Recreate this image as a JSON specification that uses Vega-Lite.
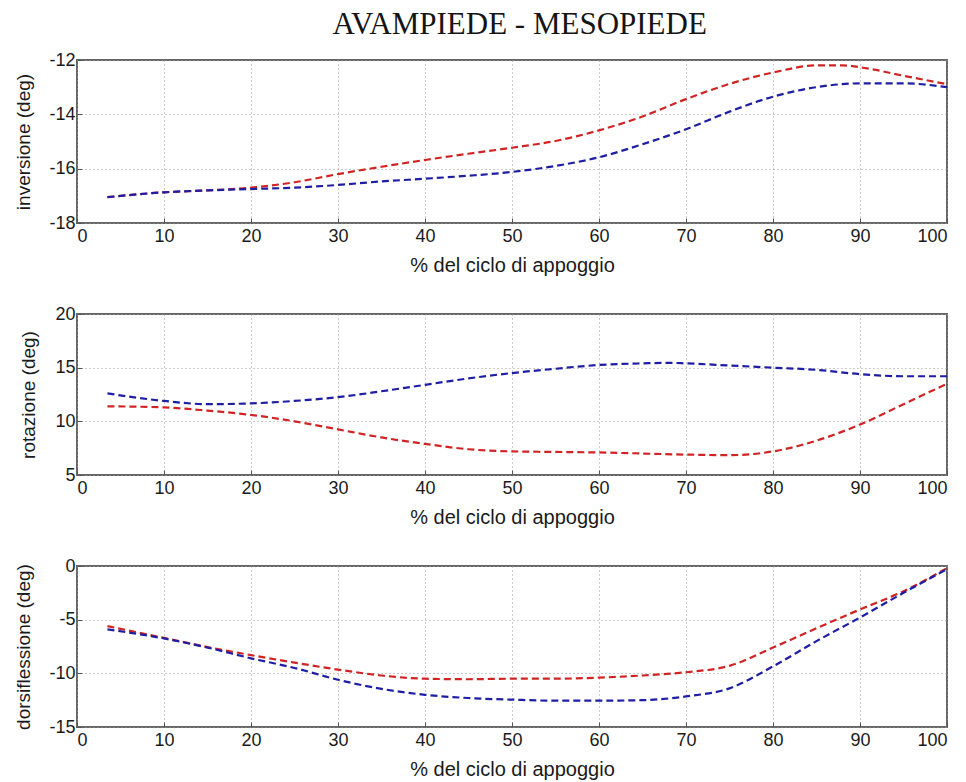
{
  "$schema": "https://vega.github.io/schema/vega-lite/v6.json",
  "background": "white",
  "padding": {"left": 12, "top": 9, "right": 2, "bottom": 2},
  "title": {"text": "AVAMPIEDE - MESOPIEDE", "font": "Liberation Serif", "fontSize": 31, "fontWeight": "normal", "color": "#151515", "anchor": "middle", "offset": 9, "dx": 37},
  "config": {
    "view": {"stroke": "#666", "strokeWidth": 2},
    "axis": {"labelFont": "Liberation Sans", "labelFontSize": 18, "labelColor": "#1a1a1a", "titleFont": "Liberation Sans", "titleFontWeight": "normal", "titleColor": "#1a1a1a", "grid": true, "gridColor": "#999", "gridDash": [1, 3], "gridWidth": 1, "domain": false, "tickColor": "#555", "tickSize": -5, "labelExpr": "'' + datum.value"},
    "axisX": {"labelPadding": 9, "titleFontSize": 20, "titleY": 48, "titleBaseline": "alphabetic"},
    "axisY": {"labelPadding": 7, "titleFontSize": 19, "titleBaseline": "middle"}
  },
  "data": {"values": [
    {"panel": "inv", "series": "red", "x": 3.5, "y": -17.05},
    {"panel": "inv", "series": "red", "x": 10, "y": -16.87},
    {"panel": "inv", "series": "red", "x": 15, "y": -16.8},
    {"panel": "inv", "series": "red", "x": 20, "y": -16.7},
    {"panel": "inv", "series": "red", "x": 25, "y": -16.5},
    {"panel": "inv", "series": "red", "x": 30, "y": -16.2},
    {"panel": "inv", "series": "red", "x": 35, "y": -15.93},
    {"panel": "inv", "series": "red", "x": 40, "y": -15.68},
    {"panel": "inv", "series": "red", "x": 45, "y": -15.45},
    {"panel": "inv", "series": "red", "x": 50, "y": -15.23},
    {"panel": "inv", "series": "red", "x": 55, "y": -14.98},
    {"panel": "inv", "series": "red", "x": 60, "y": -14.59},
    {"panel": "inv", "series": "red", "x": 65, "y": -14.08},
    {"panel": "inv", "series": "red", "x": 70, "y": -13.44},
    {"panel": "inv", "series": "red", "x": 75, "y": -12.88},
    {"panel": "inv", "series": "red", "x": 80, "y": -12.46},
    {"panel": "inv", "series": "red", "x": 85, "y": -12.2},
    {"panel": "inv", "series": "red", "x": 88, "y": -12.2},
    {"panel": "inv", "series": "red", "x": 91, "y": -12.32},
    {"panel": "inv", "series": "red", "x": 95, "y": -12.58},
    {"panel": "inv", "series": "red", "x": 100, "y": -12.89},
    {"panel": "inv", "series": "blue", "x": 3.5, "y": -17.05},
    {"panel": "inv", "series": "blue", "x": 10, "y": -16.87},
    {"panel": "inv", "series": "blue", "x": 15, "y": -16.8},
    {"panel": "inv", "series": "blue", "x": 20, "y": -16.75},
    {"panel": "inv", "series": "blue", "x": 25, "y": -16.7},
    {"panel": "inv", "series": "blue", "x": 30, "y": -16.6},
    {"panel": "inv", "series": "blue", "x": 35, "y": -16.47},
    {"panel": "inv", "series": "blue", "x": 40, "y": -16.37},
    {"panel": "inv", "series": "blue", "x": 45, "y": -16.26},
    {"panel": "inv", "series": "blue", "x": 50, "y": -16.12},
    {"panel": "inv", "series": "blue", "x": 55, "y": -15.9},
    {"panel": "inv", "series": "blue", "x": 60, "y": -15.58},
    {"panel": "inv", "series": "blue", "x": 65, "y": -15.1},
    {"panel": "inv", "series": "blue", "x": 70, "y": -14.55},
    {"panel": "inv", "series": "blue", "x": 75, "y": -13.9},
    {"panel": "inv", "series": "blue", "x": 80, "y": -13.35},
    {"panel": "inv", "series": "blue", "x": 85, "y": -13.0},
    {"panel": "inv", "series": "blue", "x": 90, "y": -12.86},
    {"panel": "inv", "series": "blue", "x": 95, "y": -12.86},
    {"panel": "inv", "series": "blue", "x": 100, "y": -13.0},
    {"panel": "rot", "series": "red", "x": 3.5, "y": 11.4},
    {"panel": "rot", "series": "red", "x": 10, "y": 11.3},
    {"panel": "rot", "series": "red", "x": 15, "y": 11.0},
    {"panel": "rot", "series": "red", "x": 20, "y": 10.6},
    {"panel": "rot", "series": "red", "x": 25, "y": 10.0},
    {"panel": "rot", "series": "red", "x": 30, "y": 9.25},
    {"panel": "rot", "series": "red", "x": 35, "y": 8.5},
    {"panel": "rot", "series": "red", "x": 40, "y": 7.9},
    {"panel": "rot", "series": "red", "x": 45, "y": 7.4},
    {"panel": "rot", "series": "red", "x": 50, "y": 7.2},
    {"panel": "rot", "series": "red", "x": 55, "y": 7.15},
    {"panel": "rot", "series": "red", "x": 60, "y": 7.1},
    {"panel": "rot", "series": "red", "x": 65, "y": 7.0},
    {"panel": "rot", "series": "red", "x": 70, "y": 6.9},
    {"panel": "rot", "series": "red", "x": 75, "y": 6.85},
    {"panel": "rot", "series": "red", "x": 80, "y": 7.2},
    {"panel": "rot", "series": "red", "x": 85, "y": 8.2},
    {"panel": "rot", "series": "red", "x": 90, "y": 9.7},
    {"panel": "rot", "series": "red", "x": 95, "y": 11.6},
    {"panel": "rot", "series": "red", "x": 100, "y": 13.5},
    {"panel": "rot", "series": "blue", "x": 3.5, "y": 12.6},
    {"panel": "rot", "series": "blue", "x": 10, "y": 11.9},
    {"panel": "rot", "series": "blue", "x": 15, "y": 11.6},
    {"panel": "rot", "series": "blue", "x": 20, "y": 11.67},
    {"panel": "rot", "series": "blue", "x": 25, "y": 11.9},
    {"panel": "rot", "series": "blue", "x": 30, "y": 12.25},
    {"panel": "rot", "series": "blue", "x": 35, "y": 12.8},
    {"panel": "rot", "series": "blue", "x": 40, "y": 13.4},
    {"panel": "rot", "series": "blue", "x": 45, "y": 14.0},
    {"panel": "rot", "series": "blue", "x": 50, "y": 14.5},
    {"panel": "rot", "series": "blue", "x": 55, "y": 14.9},
    {"panel": "rot", "series": "blue", "x": 60, "y": 15.25},
    {"panel": "rot", "series": "blue", "x": 65, "y": 15.4},
    {"panel": "rot", "series": "blue", "x": 68, "y": 15.45},
    {"panel": "rot", "series": "blue", "x": 70, "y": 15.4},
    {"panel": "rot", "series": "blue", "x": 75, "y": 15.2},
    {"panel": "rot", "series": "blue", "x": 80, "y": 15.0},
    {"panel": "rot", "series": "blue", "x": 85, "y": 14.8},
    {"panel": "rot", "series": "blue", "x": 90, "y": 14.4},
    {"panel": "rot", "series": "blue", "x": 95, "y": 14.2},
    {"panel": "rot", "series": "blue", "x": 100, "y": 14.2},
    {"panel": "dor", "series": "red", "x": 3.5, "y": -5.6},
    {"panel": "dor", "series": "red", "x": 10, "y": -6.7},
    {"panel": "dor", "series": "red", "x": 15, "y": -7.55},
    {"panel": "dor", "series": "red", "x": 20, "y": -8.3},
    {"panel": "dor", "series": "red", "x": 25, "y": -9.0},
    {"panel": "dor", "series": "red", "x": 30, "y": -9.65},
    {"panel": "dor", "series": "red", "x": 35, "y": -10.2},
    {"panel": "dor", "series": "red", "x": 40, "y": -10.5},
    {"panel": "dor", "series": "red", "x": 45, "y": -10.55},
    {"panel": "dor", "series": "red", "x": 50, "y": -10.5},
    {"panel": "dor", "series": "red", "x": 55, "y": -10.5},
    {"panel": "dor", "series": "red", "x": 60, "y": -10.4},
    {"panel": "dor", "series": "red", "x": 65, "y": -10.2},
    {"panel": "dor", "series": "red", "x": 70, "y": -9.9},
    {"panel": "dor", "series": "red", "x": 75, "y": -9.3},
    {"panel": "dor", "series": "red", "x": 80, "y": -7.6},
    {"panel": "dor", "series": "red", "x": 85, "y": -5.8},
    {"panel": "dor", "series": "red", "x": 90, "y": -4.05},
    {"panel": "dor", "series": "red", "x": 95, "y": -2.35},
    {"panel": "dor", "series": "red", "x": 100, "y": -0.2},
    {"panel": "dor", "series": "blue", "x": 3.5, "y": -5.9},
    {"panel": "dor", "series": "blue", "x": 10, "y": -6.75},
    {"panel": "dor", "series": "blue", "x": 15, "y": -7.6},
    {"panel": "dor", "series": "blue", "x": 20, "y": -8.6},
    {"panel": "dor", "series": "blue", "x": 25, "y": -9.5},
    {"panel": "dor", "series": "blue", "x": 30, "y": -10.6},
    {"panel": "dor", "series": "blue", "x": 35, "y": -11.45},
    {"panel": "dor", "series": "blue", "x": 40, "y": -12.0},
    {"panel": "dor", "series": "blue", "x": 45, "y": -12.3},
    {"panel": "dor", "series": "blue", "x": 50, "y": -12.45},
    {"panel": "dor", "series": "blue", "x": 55, "y": -12.55},
    {"panel": "dor", "series": "blue", "x": 60, "y": -12.55},
    {"panel": "dor", "series": "blue", "x": 65, "y": -12.5},
    {"panel": "dor", "series": "blue", "x": 70, "y": -12.15},
    {"panel": "dor", "series": "blue", "x": 75, "y": -11.4},
    {"panel": "dor", "series": "blue", "x": 80, "y": -9.35},
    {"panel": "dor", "series": "blue", "x": 85, "y": -7.0},
    {"panel": "dor", "series": "blue", "x": 90, "y": -4.8},
    {"panel": "dor", "series": "blue", "x": 95, "y": -2.5},
    {"panel": "dor", "series": "blue", "x": 100, "y": -0.3}
  ]},
  "bounds": "flush",
  "spacing": 91,
  "vconcat": [
    {
      "width": 870, "height": 163,
      "transform": [{"filter": "datum.panel === 'inv'"}],
      "mark": {"type": "line", "strokeDash": [7, 4], "strokeWidth": 2.2, "interpolate": "monotone"},
      "encoding": {
        "x": {"field": "x", "type": "quantitative", "scale": {"domain": [0, 100], "nice": false}, "axis": {"title": "% del ciclo di appoggio", "values": [0,10,20,30,40,50,60,70,80,90,100]}},
        "y": {"field": "y", "type": "quantitative", "scale": {"domain": [-18, -12], "nice": false}, "axis": {"title": "inversione (deg)", "values": [-18,-16,-14,-12], "titleX": -54}},
        "color": {"field": "series", "type": "nominal", "scale": {"domain": ["red", "blue"], "range": ["#d02424", "#1e1ea4"]}, "legend": null}
      }
    },
    {
      "width": 870, "height": 161,
      "transform": [{"filter": "datum.panel === 'rot'"}],
      "mark": {"type": "line", "strokeDash": [7, 4], "strokeWidth": 2.2, "interpolate": "monotone"},
      "encoding": {
        "x": {"field": "x", "type": "quantitative", "scale": {"domain": [0, 100], "nice": false}, "axis": {"title": "% del ciclo di appoggio", "values": [0,10,20,30,40,50,60,70,80,90,100]}},
        "y": {"field": "y", "type": "quantitative", "scale": {"domain": [5, 20], "nice": false}, "axis": {"title": "rotazione (deg)", "values": [5,10,15,20], "titleX": -49}},
        "color": {"field": "series", "type": "nominal", "scale": {"domain": ["red", "blue"], "range": ["#d02424", "#1e1ea4"]}, "legend": null}
      }
    },
    {
      "width": 870, "height": 161,
      "transform": [{"filter": "datum.panel === 'dor'"}],
      "mark": {"type": "line", "strokeDash": [7, 4], "strokeWidth": 2.2, "interpolate": "monotone"},
      "encoding": {
        "x": {"field": "x", "type": "quantitative", "scale": {"domain": [0, 100], "nice": false}, "axis": {"title": "% del ciclo di appoggio", "values": [0,10,20,30,40,50,60,70,80,90,100]}},
        "y": {"field": "y", "type": "quantitative", "scale": {"domain": [-15, 0], "nice": false}, "axis": {"title": "dorsiflessione (deg)", "values": [-15,-10,-5,0], "titleX": -54}},
        "color": {"field": "series", "type": "nominal", "scale": {"domain": ["red", "blue"], "range": ["#d02424", "#1e1ea4"]}, "legend": null}
      }
    }
  ]
}
